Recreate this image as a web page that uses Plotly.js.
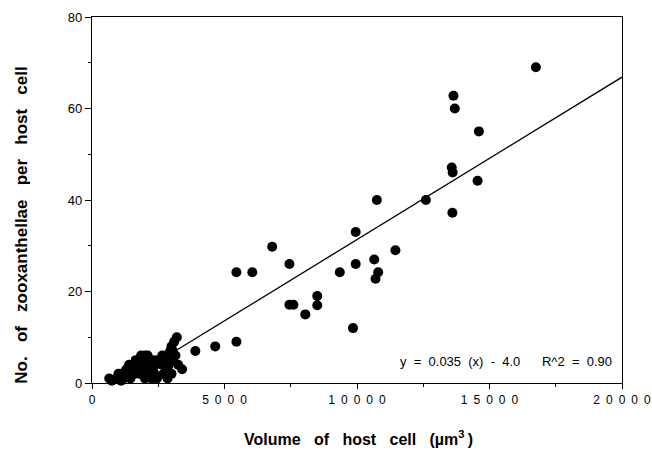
<!DOCTYPE html>
<html>
<head>
<meta charset="utf-8">
<script src="https://cdn.plot.ly/plotly-3.0.1.min.js"></script>
<style>html,body{margin:0;padding:0;background:#fff;}#chart{width:652px;height:451px;}</style>
</head>
<body>
<div id="chart"></div>
<script>
// Host cell volume (µm^3)
var volume = [
  650, 750, 900, 1000, 1050, 1150, 1200, 1300, 1350, 1400, 1450, 1500, 1550, 1600, 1650,
  1700, 1750, 1800, 1800, 1850, 1900, 1950, 2000, 2050, 2100, 2100, 2150, 2200, 2250, 2300,
  2350, 2400, 2450, 2600, 2650, 2700, 2750, 2800, 2850, 2900, 2950, 3000, 3000, 3050, 3100,
  3150, 3200, 3250, 3400, 1250, 1600, 1900, 2200, 2500, 2650, 2850, 3050, 1100, 2000, 2350,
  3900, 4650, 5450, 5450, 6050, 6800, 7450, 7450, 7600, 8050, 8500, 8500, 9350, 9850, 9950,
  9950, 10650, 10700, 10800, 10750, 11450, 12600, 13600, 13575, 13610, 13640, 13690, 14550,
  14600, 16750
];
// Number of zooxanthellae per host cell
var zoox = [
  1, 0.5, 1, 2, 1, 2, 1, 3, 2, 4, 1, 3, 4, 2, 5,
  3, 4, 5, 2, 6, 3, 4, 6, 5, 6, 2, 4, 5, 1, 3,
  5, 4, 1, 5, 6, 2, 5, 6, 1, 4, 7, 2, 8, 5, 9,
  6, 10, 4, 3, 2.5, 3, 5, 3, 5, 4, 3, 7, 0.5, 1, 2,
  7, 8, 9, 24.2, 24.2, 29.8, 26, 17.1, 17.1, 15, 19, 17, 24.2, 12, 26,
  33, 27, 22.8, 24.2, 40, 29, 40, 37.2, 47.1, 46, 62.8, 60, 44.2,
  55, 69
];
// Regression line parameters
var fitSlope = 0.00355;
var fitIntercept = -4.15;
var fitRange = [3200, 20000];

var gap = '\u2002';
var xTickVals = [0, 5000, 10000, 15000, 20000];
var xTickText = ['0', '5000', '10000', '15000', '20000'].map(function (s) { return s.split('').join(gap); });
var yTickVals = [0, 20, 40, 60, 80];
var yTickText = ['0', '20', '40', '60', '80'];

var xTitle = 'Volume of host cell (\u00b5m<sup>3</sup>\u2009)';
var yTitle = 'No. of zooxanthellae per host cell';

var fitX = fitRange.slice();
var fitY = fitX.map(function (v) { return fitSlope * v + fitIntercept; });

var sp = '\u00a0\u00a0\u00a0';
function spaced(t) { return t.split(' ').join(sp); }
var ns = '\u00a0\u00a0';

var traces = [
  {
    x: volume, y: zoox, type: 'scatter', mode: 'markers',
    marker: { color: '#000', size: 10, line: { width: 0 } },
    hoverinfo: 'skip', showlegend: false, cliponaxis: false
  },
  {
    x: fitX, y: fitY, type: 'scatter', mode: 'lines',
    line: { color: '#000', width: 1.3 },
    hoverinfo: 'skip', showlegend: false
  }
];

var layout = {
  width: 652, height: 451,
  margin: { l: 92, r: 30, t: 17, b: 68 },
  paper_bgcolor: '#fff', plot_bgcolor: '#fff',
  font: { family: 'Liberation Sans, Arial, sans-serif', color: '#000', size: 13 },
  xaxis: {
    range: [0, 20000], autorange: false,
    tickvals: xTickVals, ticktext: xTickText,
    ticks: 'outside', ticklen: 5, tickwidth: 1, tickcolor: '#000',
    minor: { dtick: 2500, ticks: 'outside', ticklen: 3, tickcolor: '#000' },
    showgrid: false, zeroline: false,
    showline: true, linecolor: '#000', linewidth: 1.2, mirror: true,
    ticklabeloverflow: 'allow',
    tickfont: { size: 12 }
  },
  yaxis: {
    range: [0, 80], autorange: false,
    tickvals: yTickVals, ticktext: yTickText,
    ticks: 'outside', ticklen: 6, tickwidth: 1, tickcolor: '#000',
    minor: { dtick: 10, ticks: 'outside', ticklen: 3, tickcolor: '#000' },
    showgrid: false, zeroline: false,
    showline: true, linecolor: '#000', linewidth: 1.2, mirror: true,
    tickfont: { size: 13 }
  },
  annotations: [
    {
      xref: 'paper', yref: 'paper', x: 0.985, y: 0.058, xanchor: 'right', yanchor: 'middle',
      text: 'y' + ns + '=' + ns + '0.035' + ns + '(x)' + ns + '-' + ns + '4.0\u00a0\u00a0\u00a0\u00a0\u00a0\u00a0R^2' + ns + '=' + ns + '0.90',
      showarrow: false, font: { size: 13 }
    },
    {
      xref: 'paper', yref: 'paper', x: 0.502, y: -0.150, xanchor: 'center', yanchor: 'middle',
      text: '<b>' + spaced(xTitle) + '</b>', showarrow: false, font: { size: 16 }
    },
    {
      xref: 'paper', yref: 'paper', x: -0.132, y: 0.43, xanchor: 'center', yanchor: 'middle',
      textangle: -90,
      text: '<b>' + spaced(yTitle) + '</b>', showarrow: false, font: { size: 17 }
    }
  ]
};

Plotly.newPlot('chart', traces, layout, { displayModeBar: false, staticPlot: true });
</script>
</body>
</html>
